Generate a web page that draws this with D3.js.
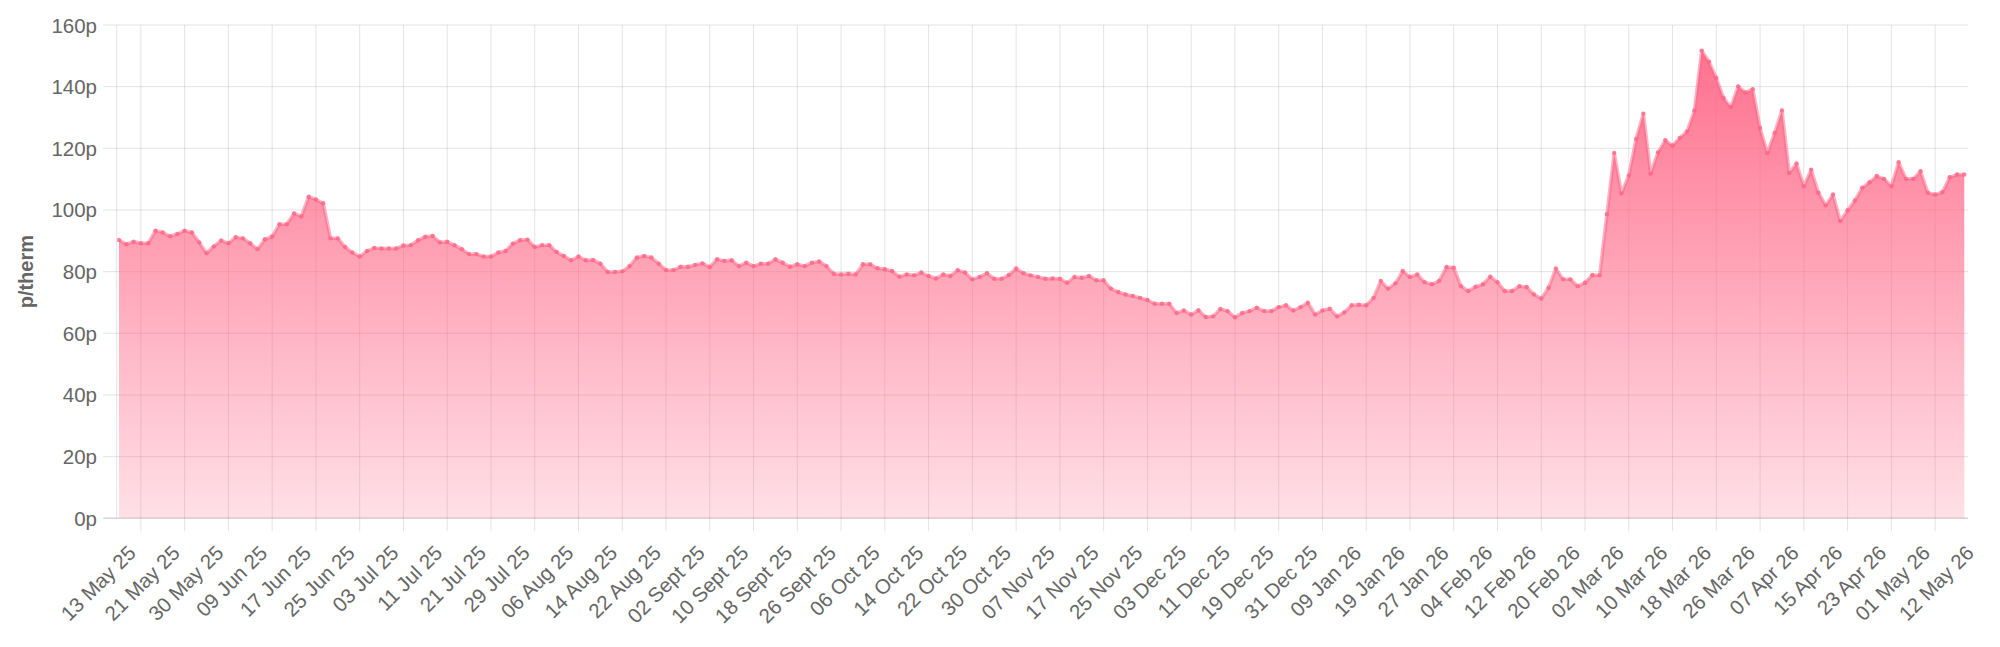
<!DOCTYPE html>
<html><head><meta charset="utf-8">
<script src="https://cdn.jsdelivr.net/npm/d3@7"></script>
<style>html,body{margin:0;padding:0;background:#fff;overflow:hidden}svg{display:block;font-family:"Liberation Sans",Arial,Helvetica,sans-serif}</style>
</head><body><svg id="chart" width="2000" height="647"></svg>
<script>
// Daily price (p/therm), one value per trading day
const values = [
90.3, 88.9, 89.7, 89.2, 89.2, 93.3, 92.7, 91.5, 92.2, 93.3,
92.7, 89.5, 86.0, 88.2, 90.1, 89.2, 91.2, 90.8, 89.2, 87.3,
90.5, 91.4, 95.4, 95.4, 98.9, 97.9, 104.3, 103.4, 102.2, 90.8,
90.8, 88.0, 86.2, 84.9, 86.7, 87.7, 87.5, 87.5, 87.5, 88.5,
88.6, 90.2, 91.3, 91.6, 89.5, 89.7, 88.6, 87.3, 85.7, 85.7,
84.9, 84.9, 86.2, 86.7, 89.1, 90.2, 90.4, 88.0, 88.6, 88.6,
86.4, 85.1, 83.7, 84.9, 83.7, 83.8, 82.6, 79.9, 79.9, 80.1,
81.8, 84.6, 85.1,
84.6, 82.6, 80.5, 80.5, 81.6, 81.6, 82.2, 82.7, 81.5, 84.0,
83.5, 83.7, 81.8, 82.9, 81.8, 82.6, 82.6, 84.0, 82.9, 81.6,
82.4, 81.8, 82.9, 83.3, 81.8, 79.3, 79.1, 79.3, 79.1, 82.4,
82.4, 81.1, 80.8, 80.2, 78.4, 79.1, 78.8, 79.7, 78.6, 77.8,
79.1, 78.6, 80.5, 79.7, 77.5, 78.3, 79.5, 77.7, 77.7, 78.9,
81.0, 79.5, 78.8, 78.3, 77.7, 77.8, 77.7, 76.4, 78.3, 78.0,
78.6, 77.2, 77.2, 74.5, 73.4, 72.6, 72.1, 71.5, 70.8, 69.6,
69.6, 69.6, 66.6, 67.4, 66.1, 67.5,
65.3, 65.5, 67.9, 67.2, 65.2, 66.6, 67.2, 68.3, 67.2, 67.2,
68.5, 69.1, 67.4, 68.5, 69.9, 66.1, 67.4, 68.0, 65.5, 66.8,
69.1, 69.3, 69.1, 71.5, 77.0, 74.5, 76.2, 80.2, 78.3, 79.1,
76.6, 75.9, 77.0, 81.5, 81.3, 75.3, 73.7, 75.1, 75.9, 78.4,
76.6, 73.7, 73.7, 75.3, 75.0, 72.6, 71.3, 74.8, 81.0, 77.5,
77.5, 75.3, 76.4, 78.9, 78.8,
98.6, 118.5, 105.4, 111.2, 123.0, 131.2, 111.8, 118.7, 122.6, 120.9,
123.4, 125.5, 132.3, 151.7, 148.1, 142.8, 136.3, 133.4, 140.1, 138.1,
139.2, 126.6, 118.5, 125.0, 132.3, 112.0, 115.1, 107.7, 113.1, 105.6,
101.5, 105.0, 96.4, 99.9, 103.1, 107.2, 109.0, 111.0, 110.1, 107.7,
115.5, 110.1, 110.1, 112.6, 105.6, 105.0, 105.8, 110.6, 111.5, 111.5
];

// Category labels shown on the x axis (every 6th trading day)
const tickLabels = [
"13 May 25","21 May 25","30 May 25","09 Jun 25","17 Jun 25","25 Jun 25","03 Jul 25",
"11 Jul 25","21 Jul 25","29 Jul 25","06 Aug 25","14 Aug 25","22 Aug 25","02 Sept 25",
"10 Sept 25","18 Sept 25","26 Sept 25","06 Oct 25","14 Oct 25","22 Oct 25","30 Oct 25",
"07 Nov 25","17 Nov 25","25 Nov 25","03 Dec 25","11 Dec 25","19 Dec 25","31 Dec 25",
"09 Jan 26","19 Jan 26","27 Jan 26","04 Feb 26","12 Feb 26","20 Feb 26","02 Mar 26",
"10 Mar 26","18 Mar 26","26 Mar 26","07 Apr 26","15 Apr 26","23 Apr 26","01 May 26",
"12 May 26"
];
const firstTickIndex = 3;
const tickStep = 6;

const yTicks = [0, 20, 40, 60, 80, 100, 120, 140, 160];
const yTitle = "p/therm";

const svg = d3.select("#chart");
const plot = {left: 116.7, right: 1968, top: 25, bottom: 518.3};
const x = d3.scaleLinear().domain([0, values.length - 1]).range([119, 1964.3]);
const y = d3.scaleLinear().domain([0, 160]).range([plot.bottom, plot.top]);

const gridColor = "rgba(0,0,0,0.11)";
const textColor = "#666";

// gradient
const defs = svg.append("defs");
const grad = defs.append("linearGradient").attr("id", "fillGrad")
  .attr("gradientUnits", "userSpaceOnUse")
  .attr("x1", 0).attr("x2", 0).attr("y1", y(160)).attr("y2", y(0));
grad.append("stop").attr("offset", 0).attr("stop-color", "rgb(255,99,132)").attr("stop-opacity", 0.95);
grad.append("stop").attr("offset", 1).attr("stop-color", "rgb(255,99,132)").attr("stop-opacity", 0.2);

// horizontal grid
const gGrid = svg.append("g");
gGrid.selectAll("line.h").data(yTicks).join("line")
  .attr("x1", plot.left - 13.5).attr("x2", plot.right)
  .attr("y1", d => y(d)).attr("y2", d => y(d))
  .attr("stroke", d => d === 0 ? "rgba(0,0,0,0.16)" : gridColor).attr("stroke-width", d => d === 0 ? 1.5 : 1);

// left axis line
gGrid.append("line").attr("x1", plot.left).attr("x2", plot.left)
  .attr("y1", plot.top).attr("y2", plot.bottom).attr("stroke", gridColor);

const ticks = tickLabels.map((l, i) => ({label: l, idx: firstTickIndex + i * tickStep}));
gGrid.selectAll("line.v").data(ticks.filter(t => x(t.idx) <= plot.right)).join("line")
  .attr("x1", t => x(t.idx)).attr("x2", t => x(t.idx))
  .attr("y1", plot.top).attr("y2", plot.bottom + 13)
  .attr("stroke", gridColor);

// area
const area = d3.area().x((d, i) => x(i)).y0(y(0)).y1(d => y(d));
svg.append("path").datum(values).attr("d", area).attr("fill", "url(#fillGrad)");

// line
const line = d3.line().x((d, i) => x(i)).y(d => y(d));
svg.append("path").datum(values).attr("d", line)
  .attr("fill", "none").attr("stroke", "rgba(255,99,132,0.5)").attr("stroke-width", 3.5)
  .attr("stroke-linejoin", "round");

svg.append("g").selectAll("circle").data(values).join("circle")
  .attr("cx", (d, i) => x(i)).attr("cy", d => y(d)).attr("r", 2.2)
  .attr("fill", "rgba(255,99,132,0.75)");

// y labels
svg.append("g").selectAll("text").data(yTicks).join("text")
  .attr("x", 97).attr("y", d => y(d)).attr("text-anchor", "end")
  .attr("dominant-baseline", "central").attr("font-size", 20.5).attr("fill", textColor)
  .text(d => d + "p");

// x labels
svg.append("g").selectAll("text").data(ticks).join("text")
  .attr("transform", t => `translate(${x(t.idx) - 9},${549}) rotate(-45)`)
  .attr("text-anchor", "end").attr("dominant-baseline", "central")
  .attr("font-size", 20.5).attr("fill", textColor)
  .text(t => t.label);

// y title
svg.append("text").attr("transform", `translate(25.5,${(plot.top + plot.bottom) / 2}) rotate(-90)`)
  .attr("text-anchor", "middle").attr("dominant-baseline", "central")
  .attr("font-size", 20).attr("font-weight", "bold").attr("fill", textColor)
  .text(yTitle);
</script></body></html>
